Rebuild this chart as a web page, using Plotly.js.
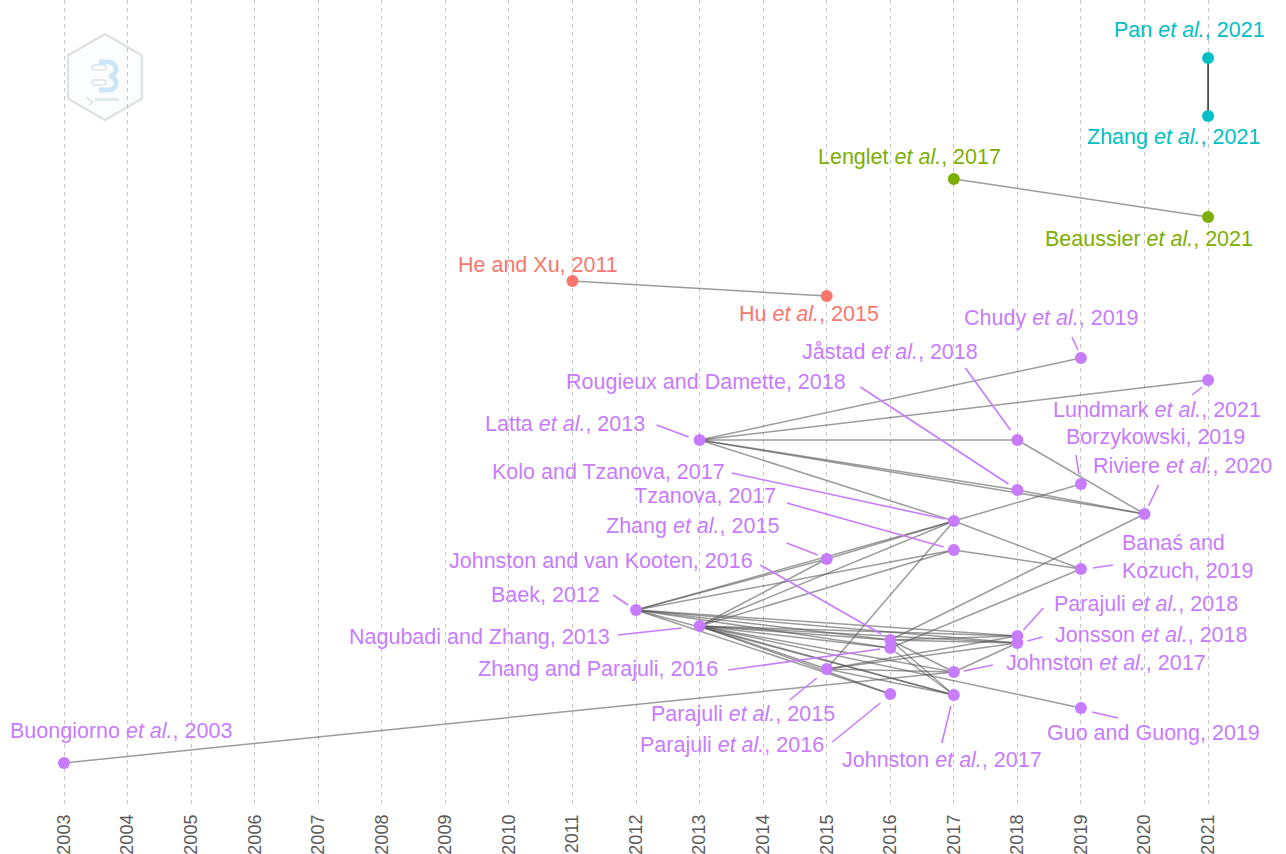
<!DOCTYPE html>
<html>
<head>
<meta charset="utf-8">
<script src="https://cdn.plot.ly/plotly-3.0.1.min.js"></script>
<style>
  html, body { margin: 0; padding: 0; background: #fff; }
  #chart { width: 1286px; height: 854px; }
</style>
</head>
<body>
<div id="chart"></div>
<script>
// papers in the citation network
const nodeIds = [
  'pan21', 'zhang21', 'lenglet17', 'beaussier21', 'hexu11', 'hu15',
  'chudy19', 'lundmark21', 'latta13', 'jastad18', 'borzy19', 'rougieux18',
  'riviere20', 'kolo17', 'tzanova17', 'zhang15', 'banas19', 'baek12',
  'nagubadi13', 'jvk16', 'zhangpar16', 'parajuli18', 'jonsson18', 'parajuli15',
  'johnston17a', 'parajuli16', 'johnston17b', 'guo19', 'buongiorno03'
];
const nodeLabels = [
  'Pan <i>et al.</i>, 2021', 'Zhang <i>et al.</i>, 2021', 'Lenglet <i>et al.</i>, 2017',
  'Beaussier <i>et al.</i>, 2021', 'He and Xu, 2011', 'Hu <i>et al.</i>, 2015',
  'Chudy <i>et al.</i>, 2019', 'Lundmark <i>et al.</i>, 2021', 'Latta <i>et al.</i>, 2013',
  'Jåstad <i>et al.</i>, 2018', 'Borzykowski, 2019', 'Rougieux and Damette, 2018',
  'Riviere <i>et al.</i>, 2020', 'Kolo and Tzanova, 2017', 'Tzanova, 2017',
  'Zhang <i>et al.</i>, 2015', 'Banaś and<br>Kozuch, 2019', 'Baek, 2012',
  'Nagubadi and Zhang, 2013', 'Johnston and van Kooten, 2016', 'Zhang and Parajuli, 2016',
  'Parajuli <i>et al.</i>, 2018', 'Jonsson <i>et al.</i>, 2018', 'Parajuli <i>et al.</i>, 2015',
  'Johnston <i>et al.</i>, 2017', 'Parajuli <i>et al.</i>, 2016', 'Johnston <i>et al.</i>, 2017',
  'Guo and Guong, 2019', 'Buongiorno <i>et al.</i>, 2003'
];
const nodeYears = [
  2021, 2021, 2017, 2021, 2011, 2015,
  2019, 2021, 2013, 2018, 2019, 2018,
  2020, 2017, 2017, 2015, 2019, 2012,
  2013, 2016, 2016, 2018, 2018, 2015,
  2017, 2016, 2017, 2019, 2003
];
// vertical layout position of each paper
const nodeLayer = [
  746, 688, 625, 587, 523, 508,
  446, 424, 364, 364, 320, 314,
  290, 283, 254, 245, 235, 194,
  178, 164, 156, 168, 161, 135,
  132, 110, 109, 96, 41
];
const nodeCluster = [
  3, 3, 2, 2, 1, 1,
  4, 4, 4, 4, 4, 4,
  4, 4, 4, 4, 4, 4,
  4, 4, 4, 4, 4, 4,
  4, 4, 4, 4, 4
];

// citation links
const edges = [
  ['lenglet17', 'beaussier21'], ['hexu11', 'hu15'],
  ['buongiorno03', 'johnston17a'],
  ['latta13', 'chudy19'], ['latta13', 'lundmark21'], ['latta13', 'jastad18'],
  ['latta13', 'rougieux18'], ['latta13', 'riviere20'], ['latta13', 'kolo17'],
  ['jastad18', 'riviere20'], ['rougieux18', 'riviere20'],
  ['kolo17', 'borzy19'], ['kolo17', 'banas19'], ['tzanova17', 'banas19'],
  ['baek12', 'kolo17'], ['baek12', 'zhang15'], ['baek12', 'tzanova17'],
  ['baek12', 'jvk16'], ['baek12', 'parajuli18'], ['baek12', 'jonsson18'],
  ['baek12', 'parajuli16'], ['baek12', 'johnston17b'], ['baek12', 'zhangpar16'],
  ['nagubadi13', 'kolo17'], ['nagubadi13', 'zhang15'], ['nagubadi13', 'tzanova17'],
  ['nagubadi13', 'jvk16'], ['nagubadi13', 'zhangpar16'], ['nagubadi13', 'parajuli15'],
  ['nagubadi13', 'parajuli16'], ['nagubadi13', 'johnston17a'], ['nagubadi13', 'johnston17b'],
  ['nagubadi13', 'jonsson18'], ['nagubadi13', 'guo19'], ['nagubadi13', 'parajuli18'],
  ['zhang15', 'kolo17'], ['parajuli15', 'kolo17'],
  ['jvk16', 'riviere20'], ['zhangpar16', 'banas19'],
  ['jvk16', 'jonsson18'], ['jvk16', 'parajuli18'], ['jvk16', 'johnston17a'],
  ['jvk16', 'johnston17b'], ['zhangpar16', 'johnston17b'],
  ['parajuli15', 'johnston17a'], ['parajuli15', 'parajuli18'], ['parajuli15', 'johnston17b'],
  ['parajuli15', 'jonsson18'], ['johnston17a', 'jonsson18']
];
const strongEdges = [['pan21', 'zhang21']];

// label placement (pixels from the node): anchored edge x, centre y, which edge
const labelPlace = {
  pan21: [-19, -28, 'center'], zhang21: [54, 21, 'right'], lenglet17: [49, -22, 'right'],
  beaussier21: [47, 22, 'right'], hexu11: [48, -16, 'right'], hu15: [-90, 18, 'left'],
  chudy19: [60, -40, 'right'], lundmark21: [55, 30, 'right'], latta13: [-53, -16, 'right'],
  jastad18: [-37, -88, 'right'], borzy19: [166, -47, 'right'], rougieux18: [-169, -108, 'right'],
  riviere20: [129, -48, 'right'], kolo17: [-227, -49, 'right'], tzanova17: [-176, -54, 'right'],
  zhang15: [-46, -33, 'right'], banas19: [39, -12, 'left'], baek12: [-34, -15, 'right'],
  nagubadi13: [-88, 11, 'right'], jvk16: [-135, -79, 'right'], zhangpar16: [-170, 21, 'right'],
  parajuli18: [35, -32, 'left'], jonsson18: [36, -8, 'left'], parajuli15: [10, 45, 'right'],
  johnston17a: [50, -9, 'left'], parajuli16: [-64, 51, 'right'], johnston17b: [-114, 65, 'left'],
  guo19: [181, 25, 'right'], buongiorno03: [-56, -32, 'left']
};
// leader segments (pixels from the node): start x, start y, end x, end y
const labelLeaders = {
  chudy19: [-9, -21, -3, -8], jastad18: [-52, -72, -7, -10], rougieux18: [-157, -103, -9, -6],
  lundmark21: [-16, 15, -6, 7], latta13: [-43, -15, -11, -3], borzy19: [-5, -29, -2, -10],
  riviere20: [14, -29, 4, -8], kolo17: [-222, -48, -9, -2], tzanova17: [-167, -47, -10, -3],
  zhang15: [-40, -16, -9, -4], banas19: [32, -4, 12, -1], jvk16: [-130, -75, -9, -6],
  baek12: [-23, -15, -8, -5], parajuli18: [26, -28, 6, -6], nagubadi13: [-82, 9, -18, 2],
  jonsson18: [25, -6, 10, -2], zhangpar16: [-162, 22, -10, 1], johnston17a: [39, -7, 10, -1],
  parajuli15: [-37, 31, -10, 9], guo19: [37, 10, 11, 4], parajuli16: [-58, 48, -10, 9],
  johnston17b: [-12, 48, -3, 11]
};

const clusterColors = { 1: '#F8766D', 2: '#7CAE00', 3: '#00BFC4', 4: '#C77CFF' };
const years = [];
for (let yr = 2003; yr <= 2021; yr++) years.push(yr);

const xRange = [2001.993, 2022.226];
const yRange = [0, 804];
const W = 1286, H = 854, marginB = 50;
const yearsPerPx = (xRange[1] - xRange[0]) / W;
const layerPerPx = (yRange[1] - yRange[0]) / (H - marginB);

function buildLines(list) {
  let xs = [], ys = [];
  list.forEach(([a, b]) => {
    let i = nodeIds.indexOf(a), j = nodeIds.indexOf(b);
    xs.push(nodeYears[i], nodeYears[j], null);
    ys.push(nodeLayer[i], nodeLayer[j], null);
  });
  return { xs, ys };
}

let edgeLines = buildLines(edges);
let strongLines = buildLines(strongEdges);

let leaderX = [], leaderY = [];
Object.keys(labelLeaders).forEach(id => {
  let i = nodeIds.indexOf(id);
  let [sx, sy, ex, ey] = labelLeaders[id];
  leaderX.push(nodeYears[i] + sx * yearsPerPx, nodeYears[i] + ex * yearsPerPx, null);
  leaderY.push(nodeLayer[i] - sy * layerPerPx, nodeLayer[i] - ey * layerPerPx, null);
});

let edgeTrace = {
  x: edgeLines.xs, y: edgeLines.ys, mode: 'lines', type: 'scatter',
  line: { color: 'rgba(90,90,90,0.6)', width: 1.5 }, hoverinfo: 'skip'
};
let strongTrace = {
  x: strongLines.xs, y: strongLines.ys, mode: 'lines', type: 'scatter',
  line: { color: '#3a3a3a', width: 1.6 }, hoverinfo: 'skip'
};
let leaderTrace = {
  x: leaderX, y: leaderY, mode: 'lines', type: 'scatter',
  line: { color: clusterColors[4], width: 1.6 }, hoverinfo: 'skip'
};
let nodeTrace = {
  x: nodeYears, y: nodeLayer, mode: 'markers', type: 'scatter',
  marker: { size: 12, color: nodeCluster.map(c => clusterColors[c]) },
  text: nodeLabels, hoverinfo: 'text'
};

let annotations = nodeIds.map((id, i) => {
  let [dx, dy, side] = labelPlace[id];
  return {
    x: nodeYears[i], y: nodeLayer[i], xref: 'x', yref: 'y',
    text: nodeLabels[i], showarrow: false,
    xanchor: side, yanchor: 'middle', xshift: dx, yshift: -dy,
    align: 'left',
    font: { family: 'Liberation Sans, Arial, sans-serif', size: 21.5, color: clusterColors[nodeCluster[i]] }
  };
});

// faint hexagon watermark in the top-left corner
let logoSvg =
  "<svg xmlns='http://www.w3.org/2000/svg' viewBox='0 0 80 90'>" +
  "<polygon points='40,2 77,23.5 77,66.5 40,88 3,66.5 3,23.5' fill='#fbfdff' stroke='#e2e2e2' stroke-width='2.5'/>" +
  "<path d='M34 30 h10 a7 7 0 0 1 0 14 a7 7 0 0 1 0 14 h-10' fill='none' stroke='#cde6f7' stroke-width='5'/>" +
  "<rect x='27' y='33' width='14' height='5' rx='2.5' fill='none' stroke='#d8e4ee' stroke-width='1.5'/>" +
  "<rect x='27' y='48' width='14' height='5' rx='2.5' fill='none' stroke='#d8e4ee' stroke-width='1.5'/>" +
  "<path d='M22 66 l6 4 l-4 3' fill='none' stroke='#d3dbe3' stroke-width='1.2'/>" +
  "<rect x='30' y='66' width='24' height='3' fill='#e2e8ee'/>" +
  "</svg>";

let layout = {
  width: W, height: H,
  margin: { l: 0, r: 0, t: 0, b: marginB },
  paper_bgcolor: '#ffffff', plot_bgcolor: '#ffffff',
  showlegend: false,
  xaxis: {
    range: xRange,
    tickvals: years, ticktext: years.map(String),
    tickangle: -90, ticks: '', ticklabelstandoff: 6,
    tickfont: { family: 'Liberation Sans, Arial, sans-serif', size: 18, color: '#5a5a5a' },
    showgrid: true, gridcolor: '#c4c4c4', gridwidth: 1, griddash: '4px,4px',
    zeroline: false, showline: false
  },
  yaxis: { range: yRange, visible: false },
  annotations: annotations,
  images: [{
    source: 'data:image/svg+xml;charset=utf-8,' + encodeURIComponent(logoSvg),
    xref: 'paper', yref: 'paper',
    x: 65 / W, y: 1 - 32 / (H - marginB), sizex: 80 / W, sizey: 90 / (H - marginB),
    xanchor: 'left', yanchor: 'top', sizing: 'stretch', layer: 'below', opacity: 1
  }]
};

Plotly.newPlot('chart', [edgeTrace, strongTrace, leaderTrace, nodeTrace], layout,
  { displayModeBar: false, staticPlot: true });
</script>
</body>
</html>
